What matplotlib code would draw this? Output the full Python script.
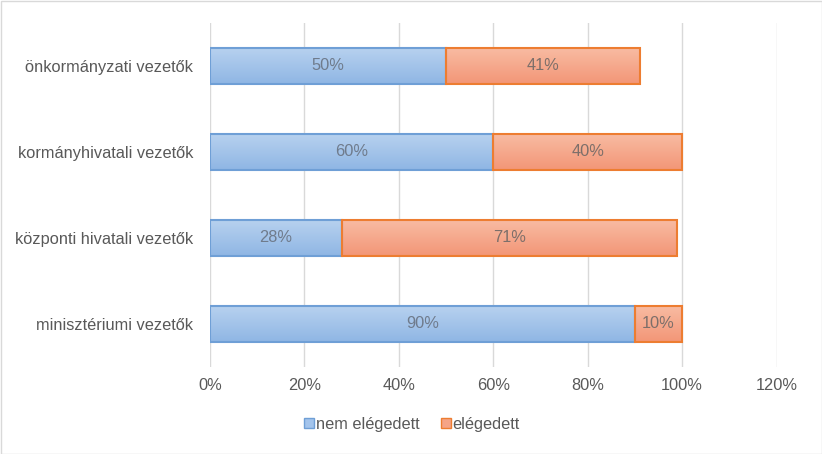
import numpy as np
import matplotlib.pyplot as plt
from matplotlib.ticker import FuncFormatter
from matplotlib.patches import Patch, Rectangle
from matplotlib.colors import to_rgb

plt.rcParams['font.family'] = ['Liberation Sans', 'DejaVu Sans']

kategoriak = ['minisztériumi vezetők', 'központi hivatali vezetők',
              'kormányhivatali vezetők', 'önkormányzati vezetők']
nem_elegedett = [90, 28, 60, 50]
elegedett = [10, 71, 40, 41]
sorozatok = ['nem elégedett', 'elégedett']

betu = 11.8

fig = plt.figure(figsize=(8.22, 4.54), dpi=100)
ax = fig.add_axes([210 / 822, 87 / 454, 566.6 / 822, 344 / 454])

y = np.arange(len(kategoriak))
magassag = 0.41

# szinátmenet a sávokhoz (felül világosabb)
def gradiens_sav(x0, szel, yc, felso, also, el):
    t = np.linspace(0, 1, 64)[:, None]
    c1 = np.array(to_rgb(felso))
    c2 = np.array(to_rgb(also))
    img = (c1 + (c2 - c1) * t).reshape(64, 1, 3)
    ax.imshow(img, extent=(x0, x0 + szel, yc - magassag / 2, yc + magassag / 2),
              aspect='auto', zorder=2, interpolation='bilinear')
    ax.add_patch(Rectangle((x0, yc - magassag / 2), szel, magassag, fill=False,
                           edgecolor=el, linewidth=1.5, zorder=3))

for i in range(len(kategoriak)):
    gradiens_sav(0, nem_elegedett[i], y[i], '#b7d1ef', '#8fb6e4', '#6f9fd6')
    gradiens_sav(nem_elegedett[i], elegedett[i], y[i], '#f8bba2', '#f39677', '#ed7d31')
    ax.text(nem_elegedett[i] / 2, y[i], f'{nem_elegedett[i]}%', ha='center', va='center',
            color='#6f7b8c', fontsize=betu, zorder=4)
    ax.text(nem_elegedett[i] + elegedett[i] / 2, y[i], f'{elegedett[i]}%', ha='center',
            va='center', color='#7d6f6a', fontsize=betu, zorder=4)

ax.set_xlim(0, 120)
ax.set_ylim(-0.5, len(kategoriak) - 0.5)
ax.set_xticks(np.arange(0, 121, 20))
ax.xaxis.set_major_formatter(FuncFormatter(lambda v, p: f'{int(v)}%'))
ax.set_yticks(y)
ax.set_yticklabels(kategoriak)
ax.grid(axis='x', color='#d9d9d9', linewidth=1, zorder=0)
ax.set_axisbelow(True)
for s in ax.spines.values():
    s.set_visible(False)
ax.tick_params(length=0, labelsize=betu, colors='#595959')
ax.tick_params(axis='x', pad=8)
ax.tick_params(axis='y', pad=12)

kezek = [Patch(facecolor='#a3c4ec', edgecolor='#6f9fd6'),
         Patch(facecolor='#f5a487', edgecolor='#ed7d31')]
fig.legend(kezek, sorozatok, loc='center', bbox_to_anchor=(412 / 822, 1 - 424 / 454),
           ncol=2, frameon=False, fontsize=betu, handlelength=0.6, handleheight=0.6,
           handletextpad=0.1, columnspacing=1.3, labelcolor='#595959')

fig.patches.append(Rectangle((0.5 / 822, 0.5 / 454), 821 / 822, 453 / 454,
                             transform=fig.transFigure, fill=False,
                             edgecolor='#d9d9d9', linewidth=1))

fig.savefig('out.png', dpi=100)
